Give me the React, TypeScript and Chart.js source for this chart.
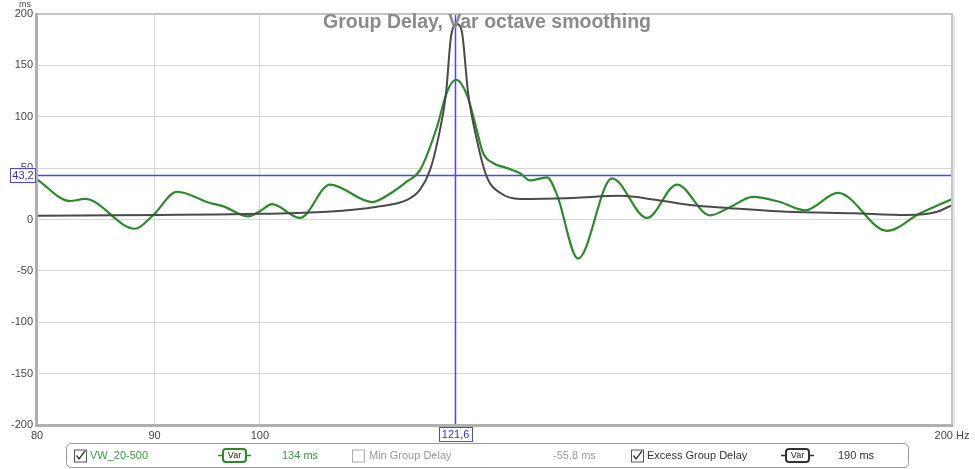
import React, { useEffect, useRef } from "react";
import { Chart, registerables } from "chart.js";

Chart.register(...registerables);

const greenFreq = [80, 82.69, 83.94, 88.25, 89.85, 92.04, 95.13, 96.38, 98.82, 100.0, 101.23, 104.1, 107.28, 111.89, 114.27, 115.88, 117.4, 119.41, 120.61, 121.71, 123.06, 124.17, 125.04, 126.3, 128.08, 129.76, 131.07, 133.32, 134.66, 137.52, 142.29, 147.36, 151.85, 156.96, 160.13, 163.86, 168.35, 172.62, 178.42, 187.39, 193.69, 200];
const greenMs = [39, 18, 20, -9, 4, 27, 16, 13, 3, 8, 15, 1.5, 34, 17, 27, 37, 48, 90, 124, 136, 121, 90, 65, 55, 50, 45, 38, 41, 24, -38, 40, 1.5, 34, 4, 12, 22, 17, 9, 26, -11, 6, 20];

const blackFreq = [80, 100, 106.96, 112.45, 115.88, 117.4, 118.58, 119.53, 120.49, 121.1, 121.83, 122.44, 123.18, 124.29, 125.54, 127.19, 129.76, 136.84, 143.43, 148.84, 153.84, 160.13, 169.54, 181.12, 191.19, 197.02, 200];
const blackMs = [3.7, 5.5, 7.6, 12.5, 19, 29, 48, 78, 122, 178, 190, 182, 124, 77, 41, 26, 20, 21, 23, 19, 14, 11, 7.6, 6, 4.4, 7.6, 14];

const xTicks = [80, 90, 100, 200];
const yTicks = [-200, -150, -100, -50, 0, 50, 100, 150, 200];
const cursorY = 43.2;
const cursorX = 121.6;

const titleText = "Group Delay, Var octave smoothing";
const legendItems = [
  { name: "VW_20-500", checked: true, smoothing: "Var", value: "134 ms", color: "#3a9a3a", pill: "#2a8a2a" },
  { name: "Min Group Delay", checked: false, smoothing: "", value: "-55,8 ms", color: "#999999", pill: "" },
  { name: "Excess Group Delay", checked: true, smoothing: "Var", value: "190 ms", color: "#333333", pill: "#333333" },
];

const FONT = "'Liberation Sans', Arial, sans-serif";
const GREEN = "#2c892c";
const DARK = "#4a4a4a";
const BLUE = "#4848f0";

function fmt(v: number) {
  return v.toFixed(1).replace(".", ",");
}

function roundRect(ctx: CanvasRenderingContext2D, x: number, y: number, w: number, h: number, r: number) {
  ctx.beginPath();
  ctx.moveTo(x + r, y);
  ctx.lineTo(x + w - r, y);
  ctx.quadraticCurveTo(x + w, y, x + w, y + r);
  ctx.lineTo(x + w, y + h - r);
  ctx.quadraticCurveTo(x + w, y + h, x + w - r, y + h);
  ctx.lineTo(x + r, y + h);
  ctx.quadraticCurveTo(x, y + h, x, y + h - r);
  ctx.lineTo(x, y + r);
  ctx.quadraticCurveTo(x, y, x + r, y);
  ctx.closePath();
}

const decorPlugin = {
  id: "decor",
  beforeDatasetsDraw(chart: any) {
    const { ctx, chartArea, scales } = chart;
    const yp = scales.y.getPixelForValue(cursorY);
    const xp = scales.x.getPixelForValue(cursorX);
    ctx.save();
    ctx.globalAlpha = 1;
    ctx.strokeStyle = BLUE;
    ctx.lineWidth = 1.5;
    ctx.setLineDash([]);
    ctx.beginPath();
    ctx.moveTo(chartArea.left, Math.round(yp) + 0.5);
    ctx.lineTo(chartArea.right, Math.round(yp) + 0.5);
    ctx.stroke();
    ctx.beginPath();
    ctx.moveTo(Math.round(xp) + 0.5, chartArea.top);
    ctx.lineTo(Math.round(xp) + 0.5, chartArea.bottom);
    ctx.stroke();
    ctx.restore();
  },
  afterDraw(chart: any) {
    const { ctx, chartArea, scales } = chart;
    const { left, right, top, bottom } = chartArea;
    ctx.save();
    // frame
    ctx.strokeStyle = "#c4c4c4";
    ctx.lineWidth = 2;
    ctx.strokeRect(left, top, right - left, bottom - top);
    ctx.fillStyle = "#e6e6e6";
    ctx.fillRect(right + 1, top + 2, 2, bottom - top);
    ctx.fillStyle = "#b0b0b0";
    ctx.fillRect(left - 2, top - 1, 3, bottom - top + 3);
    ctx.fillRect(left - 2, bottom - 1, right - left + 3, 3);

    // title
    ctx.font = `bold 19.5px ${FONT}`;
    ctx.fillStyle = "#8a8a8a";
    ctx.textAlign = "center";
    ctx.textBaseline = "middle";
    ctx.fillText(titleText, 487, 23);

    // ms unit
    ctx.font = `9px ${FONT}`;
    ctx.fillStyle = "#444";
    ctx.fillText("ms", 25, 4.5);

    // cursor labels
    const yp = scales.y.getPixelForValue(cursorY);
    const xp = scales.x.getPixelForValue(cursorX);
    ctx.font = `11px ${FONT}`;
    ctx.fillStyle = "#fff";
    ctx.fillRect(10, yp - 7.5, 26, 15);
    ctx.strokeStyle = BLUE;
    ctx.lineWidth = 1;
    ctx.strokeRect(10.5, Math.round(yp - 7) + 0.5, 25, 14);
    ctx.fillStyle = "#3030c0";
    ctx.fillText(fmt(cursorY), 23, yp + 0.5);

    ctx.fillStyle = "#fff";
    ctx.fillRect(xp - 16, 427, 33, 15);
    ctx.strokeRect(Math.round(xp - 16) + 0.5, 427.5, 33, 14);
    ctx.fillStyle = "#3030c0";
    ctx.fillText(fmt(cursorX), xp + 0.5, 435);

    // legend box
    ctx.strokeStyle = "#999";
    ctx.fillStyle = "#fff";
    roundRect(ctx, 66.5, 443.5, 842, 24, 5);
    ctx.fill();
    ctx.stroke();

    const slots = [
      { cb: 74, name: 90, pill: 218, val: 282 },
      { cb: 352, name: 369, pill: 0, val: 553 },
      { cb: 631, name: 647, pill: 781, val: 838 },
    ];
    const cy = 455.5;
    legendItems.forEach((it, i) => {
      const s = slots[i];
      ctx.strokeStyle = it.checked ? "#555" : "#aaa";
      ctx.lineWidth = 1;
      ctx.fillStyle = "#fff";
      ctx.fillRect(s.cb, cy - 6, 12, 12);
      ctx.strokeRect(s.cb + 0.5, cy - 6 + 0.5, 12, 12);
      if (it.checked) {
        ctx.strokeStyle = "#333";
        ctx.lineWidth = 1.3;
        ctx.beginPath();
        ctx.moveTo(s.cb + 2.5, cy);
        ctx.lineTo(s.cb + 5, cy + 3.5);
        ctx.lineTo(s.cb + 11, cy - 4.5);
        ctx.stroke();
      }
      ctx.font = `11px ${FONT}`;
      ctx.textAlign = "left";
      ctx.fillStyle = it.color;
      ctx.fillText(it.name, s.name, cy + 0.5);
      ctx.fillText(it.value, s.val, cy + 0.5);
      if (it.smoothing) {
        ctx.strokeStyle = it.pill;
        ctx.lineWidth = 1.5;
        ctx.beginPath();
        ctx.moveTo(s.pill, cy);
        ctx.lineTo(s.pill + 33, cy);
        ctx.stroke();
        ctx.fillStyle = "#fff";
        roundRect(ctx, s.pill + 5, cy - 6.5, 23, 13, 3);
        ctx.fill();
        ctx.lineWidth = 2;
        ctx.stroke();
        ctx.font = `9px ${FONT}`;
        ctx.fillStyle = "#222";
        ctx.textAlign = "center";
        ctx.fillText(it.smoothing, s.pill + 16.5, cy + 0.5);
      }
    });
    ctx.restore();
  },
};

export default function App() {
  const canvasRef = useRef<HTMLCanvasElement | null>(null);
  useEffect(() => {
    if (!canvasRef.current) return;
    Chart.defaults.font.family = FONT;
    const chart = new Chart(canvasRef.current, {
      type: "line",
      data: {
        datasets: [
          {
            label: "Excess Group Delay",
            data: blackFreq.map((f, i) => ({ x: f, y: blackMs[i] })),
            borderColor: DARK,
            borderWidth: 2,
            pointRadius: 0,
            cubicInterpolationMode: "monotone",
            fill: false,
          },
          {
            label: "VW_20-500",
            data: greenFreq.map((f, i) => ({ x: f, y: greenMs[i] })),
            borderColor: GREEN,
            borderWidth: 2.2,
            pointRadius: 0,
            cubicInterpolationMode: "monotone",
            fill: false,
          },
        ],
      },
      options: {
        animation: false,
        responsive: false,
        maintainAspectRatio: false,
        layout: { padding: { left: 0, right: 23, top: 14, bottom: 30 } },
        plugins: { legend: { display: false }, tooltip: { enabled: false }, title: { display: false } },
        scales: {
          x: {
            type: "logarithmic",
            min: 80,
            max: 200,
            afterBuildTicks: (scale: any) => {
              scale.ticks = xTicks.map((v) => ({ value: v }));
            },
            afterFit: (scale: any) => {
              scale.height = 14;
            },
            ticks: {
              autoSkip: false,
              maxRotation: 0,
              padding: 4,
              color: "#444",
              font: { size: 11 },
              callback: (v: any) => (Number(v) === 200 ? "200 Hz" : String(v)),
            },
            grid: { color: "#d6d6d6", drawTicks: false, lineWidth: 1 },
            border: { display: false },
          },
          y: {
            min: -200,
            max: 200,
            afterBuildTicks: (scale: any) => {
              scale.ticks = yTicks.map((v) => ({ value: v }));
            },
            afterFit: (scale: any) => {
              scale.width = 37;
            },
            ticks: { padding: 4, color: "#444", font: { size: 11 } },
            grid: { color: "#d6d6d6", drawTicks: false, lineWidth: 1 },
            border: { display: false },
          },
        },
      },
      plugins: [decorPlugin],
    } as any);
    return () => chart.destroy();
  }, []);
  return (
    <div style={{ position: "absolute", left: 0, top: 0, width: 975, height: 469, background: "#fff" }}>
      <canvas ref={canvasRef} width={975} height={469} style={{ display: "block" }} />
    </div>
  );
}
